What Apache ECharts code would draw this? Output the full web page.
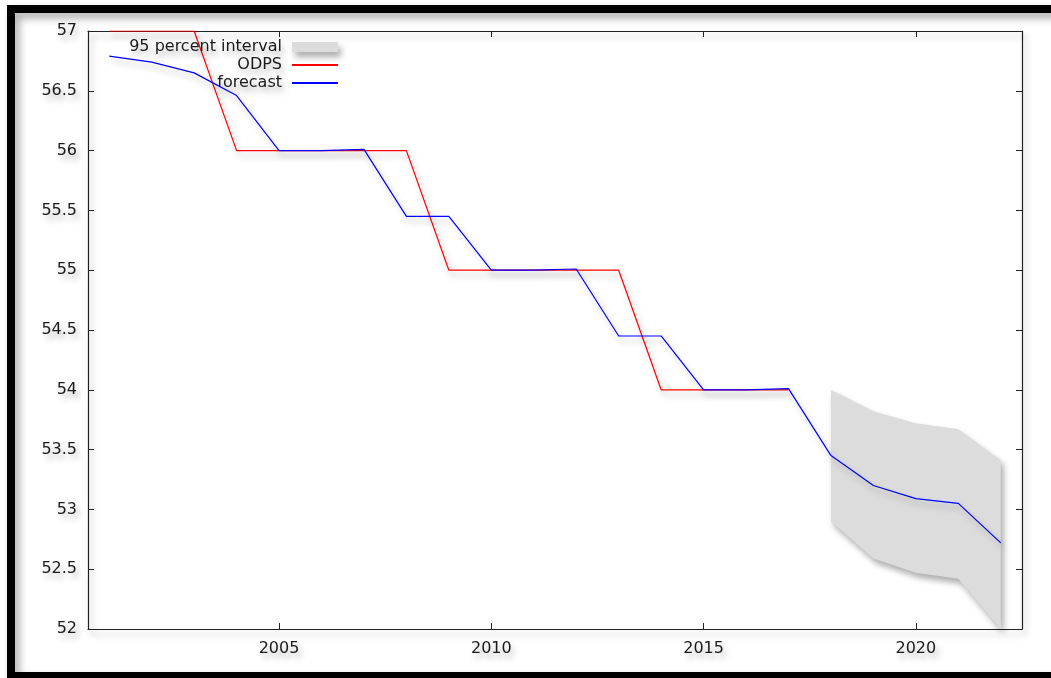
<!DOCTYPE html>
<html>
<head>
<meta charset="utf-8">
<title>ODPS forecast</title>
<script src="https://cdn.jsdelivr.net/npm/echarts@6/dist/echarts.min.js"></script>
<style>
  html, body { margin: 0; padding: 0; background: #fff; }
  #chart { width: 1051px; height: 678px; }
</style>
</head>
<body>
<div id="chart"></div>
<script>
// Observed series (ODPS) by year
const odpsYears = [2001, 2002, 2003, 2004, 2005, 2006, 2007, 2008, 2009, 2010, 2011, 2012, 2013, 2014, 2015, 2016, 2017];
const odpsValues = [57, 57, 57, 56, 56, 56, 56, 56, 55, 55, 55, 55, 55, 54, 54, 54, 54];

// Forecast series by year
const forecastYears = [2001, 2002, 2003, 2004, 2005, 2006, 2007, 2008, 2009, 2010, 2011, 2012, 2013, 2014, 2015, 2016, 2017, 2018, 2019, 2020, 2021, 2022];
const forecastValues = [56.79, 56.74, 56.65, 56.46, 56.0, 56.0, 56.01, 55.45, 55.45, 55.0, 55.0, 55.01, 54.45, 54.45, 54.0, 54.0, 54.01, 53.45, 53.20, 53.09, 53.05, 52.72];

// 95 percent interval bounds
const intervalYears = [2018, 2019, 2020, 2021, 2022];
const intervalUpper = [54.00, 53.82, 53.72, 53.67, 53.41];
const intervalLower = [52.90, 52.59, 52.47, 52.42, 52.00];

// Axis ticks
const xTickValues = [2005, 2010, 2015, 2020];

const pairs = (xs, ys) => xs.map((x, i) => [x, ys[i]]);

const FONT = 'DejaVu Sans';
const TEXT = '#1a1a1a';
const BAND = '#dcdcdc';
const SH = { shadowColor: 'rgba(0,0,0,0.32)', shadowBlur: 6, shadowOffsetX: 3, shadowOffsetY: 5 };
const TSH = { textShadowColor: 'rgba(0,0,0,0.30)', textShadowBlur: 6, textShadowOffsetX: 3, textShadowOffsetY: 5 };
const axisLineStyle = Object.assign({ color: '#222', width: 1.2 }, SH);
const tickStyle = { color: '#222', width: 1 };

const chart = echarts.init(document.getElementById('chart'), null, { renderer: 'canvas' });

// Shaded interval: one polygon along the upper bound and back along the lower bound
function renderBand(params, api) {
  if (params.dataIndex !== 0) return null;
  const upper = intervalYears.map((x, i) => api.coord([x, intervalUpper[i]]));
  const lower = intervalYears.map((x, i) => api.coord([x, intervalLower[i]])).reverse();
  return {
    type: 'polygon',
    shape: { points: upper.concat(lower) },
    style: Object.assign({ fill: BAND }, SH)
  };
}

chart.setOption({
  backgroundColor: '#fff',
  animation: false,
  grid: { left: 88, right: 29, top: 31, bottom: 49 },
  graphic: [{
    type: 'rect',
    z: 100,
    silent: true,
    shape: { x: 11, y: 9, width: 1100, height: 667 },
    style: { fill: null, stroke: '#000', lineWidth: 8,
      shadowColor: 'rgba(0,0,0,0.35)', shadowBlur: 8, shadowOffsetX: 4, shadowOffsetY: 5 }
  }],
  legend: {
    orient: 'vertical',
    align: 'right',
    right: 712,
    top: 38,
    padding: 0,
    itemGap: 0,
    itemWidth: 46,
    itemHeight: 10,
    textStyle: Object.assign({ fontFamily: FONT, fontSize: 16, color: TEXT, lineHeight: 18,
      padding: [0, 5, 0, 0] }, TSH),
    data: [
      { name: '95 percent interval', icon: 'rect', itemStyle: Object.assign({ color: BAND }, SH) },
      { name: 'ODPS', itemStyle: { opacity: 0 } },
      { name: 'forecast', itemStyle: { opacity: 0 } }
    ]
  },
  xAxis: [{
    type: 'value',
    min: 2000.5,
    max: 2022.5,
    position: 'bottom',
    axisLine: { show: true, onZero: false, lineStyle: axisLineStyle },
    axisTick: { show: true, inside: true, length: 6, customValues: xTickValues, lineStyle: tickStyle },
    axisLabel: Object.assign({ customValues: xTickValues, formatter: v => String(v),
      fontFamily: FONT, fontSize: 16, color: TEXT, margin: 12 }, TSH),
    splitLine: { show: false }
  }, {
    type: 'value',
    min: 2000.5,
    max: 2022.5,
    position: 'top',
    axisLine: { show: true, onZero: false, lineStyle: axisLineStyle },
    axisTick: { show: true, inside: true, length: 6, customValues: xTickValues, lineStyle: tickStyle },
    axisLabel: { show: false },
    splitLine: { show: false }
  }],
  yAxis: [{
    type: 'value',
    min: 52,
    max: 57,
    interval: 0.5,
    position: 'left',
    axisLine: { show: true, onZero: false, lineStyle: axisLineStyle },
    axisTick: { show: true, inside: true, length: 6, lineStyle: tickStyle },
    axisLabel: Object.assign({ fontFamily: FONT, fontSize: 16, color: TEXT, margin: 11 }, TSH),
    splitLine: { show: false }
  }, {
    type: 'value',
    min: 52,
    max: 57,
    interval: 0.5,
    position: 'right',
    axisLine: { show: true, onZero: false, lineStyle: axisLineStyle },
    axisTick: { show: true, inside: true, length: 6, lineStyle: tickStyle },
    axisLabel: { show: false },
    splitLine: { show: false }
  }],
  series: [
    {
      name: '95 percent interval',
      type: 'custom',
      coordinateSystem: 'cartesian2d',
      itemStyle: { color: BAND },
      encode: { x: 0, y: [1, 2] },
      data: intervalYears.map((x, i) => [x, intervalLower[i], intervalUpper[i]]),
      renderItem: renderBand,
      silent: true,
      z: 1
    },
    {
      name: 'ODPS',
      type: 'line',
      symbol: 'none',
      color: '#ff0000',
      lineStyle: Object.assign({ color: '#ff0000', width: 1.2 }, SH),
      data: pairs(odpsYears, odpsValues),
      z: 3
    },
    {
      name: 'forecast',
      type: 'line',
      symbol: 'none',
      color: '#0000ff',
      lineStyle: Object.assign({ color: '#0000ff', width: 1.2 }, SH),
      data: pairs(forecastYears, forecastValues),
      z: 4
    }
  ]
});
</script>
</body>
</html>
